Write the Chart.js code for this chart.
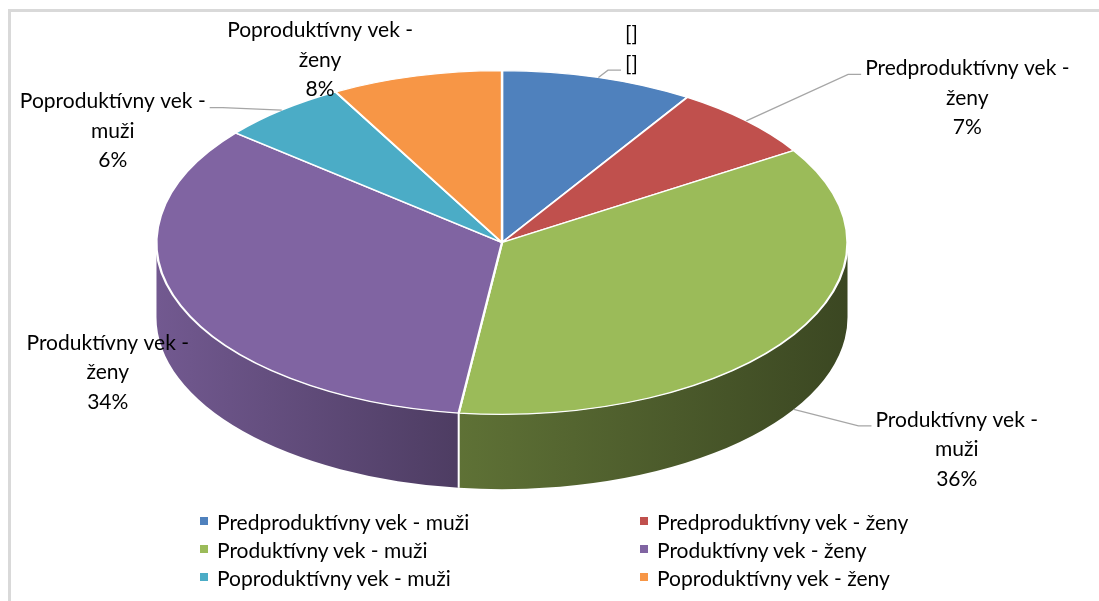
<!DOCTYPE html>
<html>
<head>
<meta charset="utf-8">
<script src="https://cdn.jsdelivr.net/npm/chart.js@4.4.1/dist/chart.umd.min.js"></script>
<style>
    body {
        margin: 0;
        width: 1099px;
        height: 601px;
        overflow: hidden;
        background: #fff;
        font-family: Lato, sans-serif;
    }

    #frame {
        position: absolute;
        left: 8px;
        top: 9px;
        width: 1200px;
        height: 700px;
        border: 3px solid #d9d9d9;
    }

    #pieChart {
        position: absolute;
        left: 0;
        top: 0;
    }

    #legend {
        position: absolute;
        left: 200px;
        top: 507px;
        display: grid;
        grid-template-columns: 440px 340px;
    }

    .item {
        height: 28px;
        display: flex;
        align-items: center;
        font-size: 21px;
        color: #000;
        white-space: nowrap;
    }

    .box {
        width: 8px;
        height: 8px;
        margin-right: 9px;
    }
</style>
</head>
<body>

<div id="frame"></div>
<canvas id="pieChart" width="1099" height="601"></canvas>
<div id="legend"></div>

<script>
const categories = [
    "Predproduktívny vek - muži",
    "Predproduktívny vek - ženy",
    "Produktívny vek - muži",
    "Produktívny vek - ženy",
    "Poproduktívny vek - muži",
    "Poproduktívny vek - ženy"
];

// percent shares (first one shows only "[]")
const shares = [9, 7, 36, 34, 6, 8];

const colors = [
    "#4f81bd",
    "#c0504d",
    "#9bbb59",
    "#8064a2",
    "#4bacc6",
    "#f79646"
];

// look of the fake 3D
const stretchX = 2.01;
const depthRatio = 0.435;
const labelFont = "21px Lato, sans-serif";
const lineHeight = 29.5;

function shade(hex, f) {
    const n = parseInt(hex.slice(1), 16);
    const r = Math.round(((n >> 16) & 255) * f);
    const g = Math.round(((n >> 8) & 255) * f);
    const b = Math.round((n & 255) * f);
    return `rgb(${r},${g},${b})`;
}

function wrapText(ctx, text, maxWidth) {
    const words = text.split(" ");
    const lines = [];
    let line = "";
    words.forEach(word => {
        const test = line ? line + " " + word : word;
        if (line && ctx.measureText(test).width > maxWidth) {
            lines.push(line);
            line = word;
        } else {
            line = test;
        }
    });
    lines.push(line);
    return lines;
}

const pie3d = {
    id: "pie3d",

    beforeDatasetsDraw(chart) {
        const ctx = chart.ctx;
        const arcs = chart.getDatasetMeta(0).data;
        const cx = arcs[0].x;
        const cy = arcs[0].y;
        const r = arcs[0].outerRadius;
        const depth = r * depthRatio;

        ctx.save();
        ctx.translate(cx, cy);
        ctx.scale(stretchX, 1);
        ctx.translate(-cx, -cy);

        // side walls, only the front half is visible
        arcs.forEach((arc, i) => {
            const a0 = Math.max(arc.startAngle, 0);
            const a1 = Math.min(arc.endAngle, Math.PI);
            if (a1 <= a0) return;

            const grad = ctx.createLinearGradient(cx - r, 0, cx + r, 0);
            grad.addColorStop(0, shade(colors[i], 0.89));
            grad.addColorStop(0.43, shade(colors[i], 0.61));
            grad.addColorStop(1, shade(colors[i], 0.38));

            ctx.beginPath();
            ctx.arc(cx, cy, r, a0, a1);
            ctx.arc(cx, cy + depth, r, a1, a0, true);
            ctx.closePath();
            ctx.fillStyle = grad;
            ctx.fill();
        });

        // white seams between walls
        ctx.strokeStyle = "#fff";
        ctx.lineWidth = 1;
        arcs.forEach(arc => {
            const a = arc.endAngle;
            if (a > 0 && a < Math.PI) {
                const x = cx + r * Math.cos(a);
                const y = cy + r * Math.sin(a);
                ctx.beginPath();
                ctx.moveTo(x, y);
                ctx.lineTo(x, y + depth);
                ctx.stroke();
            }
        });
    },

    afterDatasetsDraw(chart, args, opts) {
        const ctx = chart.ctx;
        ctx.restore();

        const arcs = chart.getDatasetMeta(0).data;
        const total = shares.reduce((a, b) => a + b, 0);

        ctx.save();
        ctx.font = labelFont;
        ctx.fillStyle = "#000";
        ctx.textAlign = "center";
        ctx.textBaseline = "middle";

        arcs.forEach((arc, i) => {
            const mid = (arc.startAngle + arc.endAngle) / 2;
            const r = arc.outerRadius;
            const front = Math.sin(mid) > 0;
            const ax = arc.x + stretchX * r * Math.cos(mid);
            const ay = arc.y + r * Math.sin(mid) + (front ? r * depthRatio : 0);

            let lines;
            if (opts.broken[i]) {
                lines = ["[]", "[]"];
            } else {
                lines = wrapText(ctx, categories[i], opts.maxWidth);
                lines.push(Math.round(shares[i] / total * 100) + "%");
            }

            const lx = ax + opts.offsets[i][0];
            const ly = ay + opts.offsets[i][1];
            const top = ly - (lines.length - 1) * lineHeight / 2;
            const boxW = Math.max(...lines.map(l => ctx.measureText(l).width));

            lines.forEach((l, k) => {
                ctx.fillText(l, lx, top + k * lineHeight);
            });

            if (opts.leaders[i] !== null) {
                const side = ax < lx ? -1 : 1;
                const ex = lx + side * (boxW / 2 + 4);
                const ey = top + opts.leaders[i] * lineHeight + 6;
                ctx.beginPath();
                ctx.moveTo(ax, ay);
                ctx.lineTo(ex + side * 13, ey);
                ctx.lineTo(ex, ey);
                ctx.strokeStyle = "#a6a6a6";
                ctx.lineWidth = 1.3;
                ctx.stroke();
            }
        });

        ctx.restore();
    }
};

const chart = new Chart(document.getElementById("pieChart"), {
    type: "pie",

    data: {
        labels: categories,

        datasets: [{
            data: shares,
            backgroundColor: colors,
            borderColor: "#fff",
            borderWidth: 1.2,
            hoverOffset: 0
        }]
    },

    options: {
        responsive: false,
        animation: false,
        events: [],

        layout: {
            padding: {
                left: 10,
                right: 105,
                top: 70,
                bottom: 186
            }
        },

        plugins: {
            legend: {
                display: false
            },

            tooltip: {
                enabled: false
            },

            pie3d: {
                maxWidth: 208,
                broken: [true, false, false, false, false, false],
                offsets: [
                    [33, -28],
                    [221, -23],
                    [163, 40],
                    [-73, -8],
                    [-169, 21],
                    [-96, -16]
                ],
                // which text row the leader line meets, null = no leader
                leaders: [1, 0, 0, null, 0, null]
            }
        }
    },

    plugins: [pie3d]
});

// legend in two columns like the original
const legend = document.getElementById("legend");

categories.forEach((name, i) => {
    legend.innerHTML += `
        <div class="item">
            <span class="box" style="background:${colors[i]}"></span>
            <span>${name}</span>
        </div>
    `;
});
</script>
</body>
</html>
